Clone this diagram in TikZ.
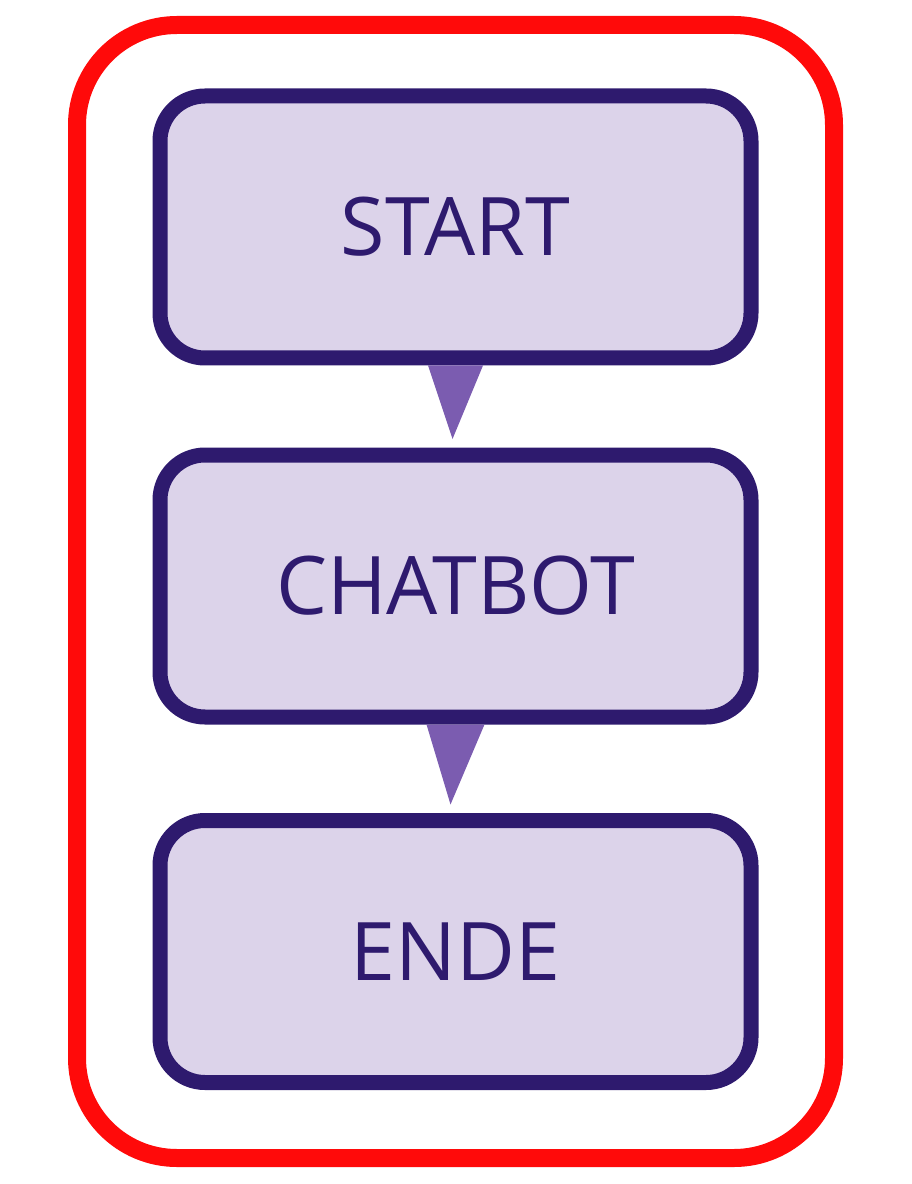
\documentclass[tikz,border=0pt]{standalone}
\usepackage{fontspec}
\setmainfont{Open Sans}
\usetikzlibrary{calc}
\definecolor{boxfill}{HTML}{DCD3EA}
\definecolor{boxline}{HTML}{2E1A6E}
\definecolor{arrowfill}{HTML}{7B5CB0}
\definecolor{frame}{HTML}{FF0A0A}
\tikzset{stage/.style={draw=boxline,fill=boxfill,line width=.3cm,rounded corners=.9cm,minimum width=11.82cm,minimum height=5.24cm,inner sep=0pt,outer sep=0pt,text=boxline,font=\fontsize{46}{50}\selectfont}}

\begin{document}
\begin{tikzpicture}
\useasboundingbox (0,0) rectangle (18.22,-23.68);
\draw[frame,line width=.36cm,rounded corners=2cm] (1.54,-.5) rectangle (16.68,-23.16);
\node[stage] (start) at (9.11,-4.54) {START};
\node[stage] (chatbot) at (9.11,-11.72) {CHATBOT};
\node[stage] (ende) at (9.11,-19.03) {ENDE};
\fill[arrowfill] ($(start.south)+(-.55,-.15)$) -- ($(start.south)+(.55,-.15)$) -- ($(chatbot.north)+(-.06,.32)$) -- cycle;
\fill[arrowfill] ($(chatbot.south)+(-.58,-.15)$) -- ($(chatbot.south)+(.58,-.15)$) -- ($(ende.north)+(-.1,.32)$) -- cycle;
\end{tikzpicture}
\end{document}
